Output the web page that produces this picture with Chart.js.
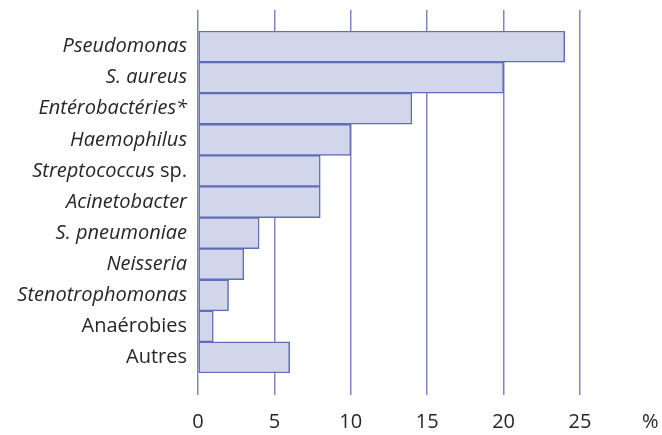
<!DOCTYPE html>
<html>
<head>
<meta charset="utf-8">
<script src="https://cdn.jsdelivr.net/npm/chart.js@4"></script>
<style>
  html, body { margin: 0; padding: 0; background: #fff; }
  #wrap { width: 662px; height: 435px; }
</style>
</head>
<body>
<div id="wrap"><canvas id="barCanvas"></canvas></div>
<script>
// germes isolés (%)
const categories = [
    "Pseudomonas",
    "S. aureus",
    "Entérobactéries*",
    "Haemophilus",
    "Streptococcus sp.",
    "Acinetobacter",
    "S. pneumoniae",
    "Neisseria",
    "Stenotrophomonas",
    "Anaérobies",
    "Autres",
];
const values = [24, 20, 14, 10, 8, 8, 4, 3, 2, 1, 6];
const xMax = 25;
const unitLabel = "%";
const uprightLabels = ["Anaérobies", "Autres"];

const gridColor = "rgb(125, 135, 200)";
const textColor = "#262626";
const labelFont = "'Open Sans', 'DejaVu Sans', sans-serif";
const fontSize = 20;

// y labels: italic genus names, "sp." and generic words upright
// plus the "%" unit after the last x tick
const labelPlugin = {
    id: "labels",
    afterDraw(chart) {
        const ctx = chart.ctx;
        const yScale = chart.scales.y;
        const xScale = chart.scales.x;
        const x = chart.chartArea.left - 11;
        ctx.save();
        ctx.fillStyle = textColor;
        ctx.textBaseline = "middle";
        ctx.textAlign = "left";
        categories.forEach((label, i) => {
            let parts;
            if (uprightLabels.includes(label)) {
                parts = [[label, "normal"]];
            } else if (label.endsWith(" sp.")) {
                parts = [[label.slice(0, -4), "italic"], [" sp.", "normal"]];
            } else {
                parts = [[label, "italic"]];
            }
            let w = 0;
            parts.forEach(p => {
                ctx.font = p[1] + " " + fontSize + "px " + labelFont;
                w += ctx.measureText(p[0]).width;
            });
            let cx = x - w;
            const y = yScale.getPixelForValue(i);
            parts.forEach(p => {
                ctx.font = p[1] + " " + fontSize + "px " + labelFont;
                ctx.fillText(p[0], cx, y);
                cx += ctx.measureText(p[0]).width;
            });
        });
        // unit, on the tick label row
        const row = xScale.ticks.length ? xScale.getLabelItems()[0].options.translation[1] : 420;
        ctx.font = "normal " + fontSize + "px " + labelFont;
        ctx.textAlign = "center";
        const step = xScale.getPixelForValue(5) - xScale.getPixelForValue(0);
        ctx.fillText(unitLabel, xScale.getPixelForValue(xMax) + step * 0.92, row + fontSize * 0.6);
        ctx.restore();
    },
};

new Chart(document.getElementById("barCanvas"), {
    type: "bar",
    data: {
        labels: categories,
        datasets: [
            {
                data: values,
                backgroundColor: "rgb(210, 214, 235)",
                borderColor: "rgb(95, 110, 182)",
                borderWidth: 1.5,
                borderSkipped: false,
                barPercentage: 1,
                categoryPercentage: 1,
            },
        ],
    },
    options: {
        indexAxis: "y",
        responsive: true,
        maintainAspectRatio: false,
        animation: false,
        layout: { padding: { left: 198, top: 10, right: 82, bottom: -14 } },
        plugins: {
            legend: { display: false },
            tooltip: { enabled: false },
        },
        scales: {
            x: {
                type: "linear",
                position: "bottom",
                min: 0,
                max: xMax,
                border: { display: false },
                grid: { color: gridColor, lineWidth: 1.5, tickLength: 22 },
                ticks: {
                    stepSize: 5,
                    padding: 15,
                    color: textColor,
                    font: { family: labelFont, size: fontSize },
                },
            },
            x2: {
                type: "linear",
                position: "top",
                min: 0,
                max: xMax,
                border: { display: false },
                grid: { color: gridColor, lineWidth: 1.5, tickLength: 21, drawOnChartArea: false },
                ticks: { stepSize: 5, display: false },
            },
            y: {
                type: "category",
                display: false,
            },
        },
    },
    plugins: [labelPlugin],
});
</script>
</body>
</html>
